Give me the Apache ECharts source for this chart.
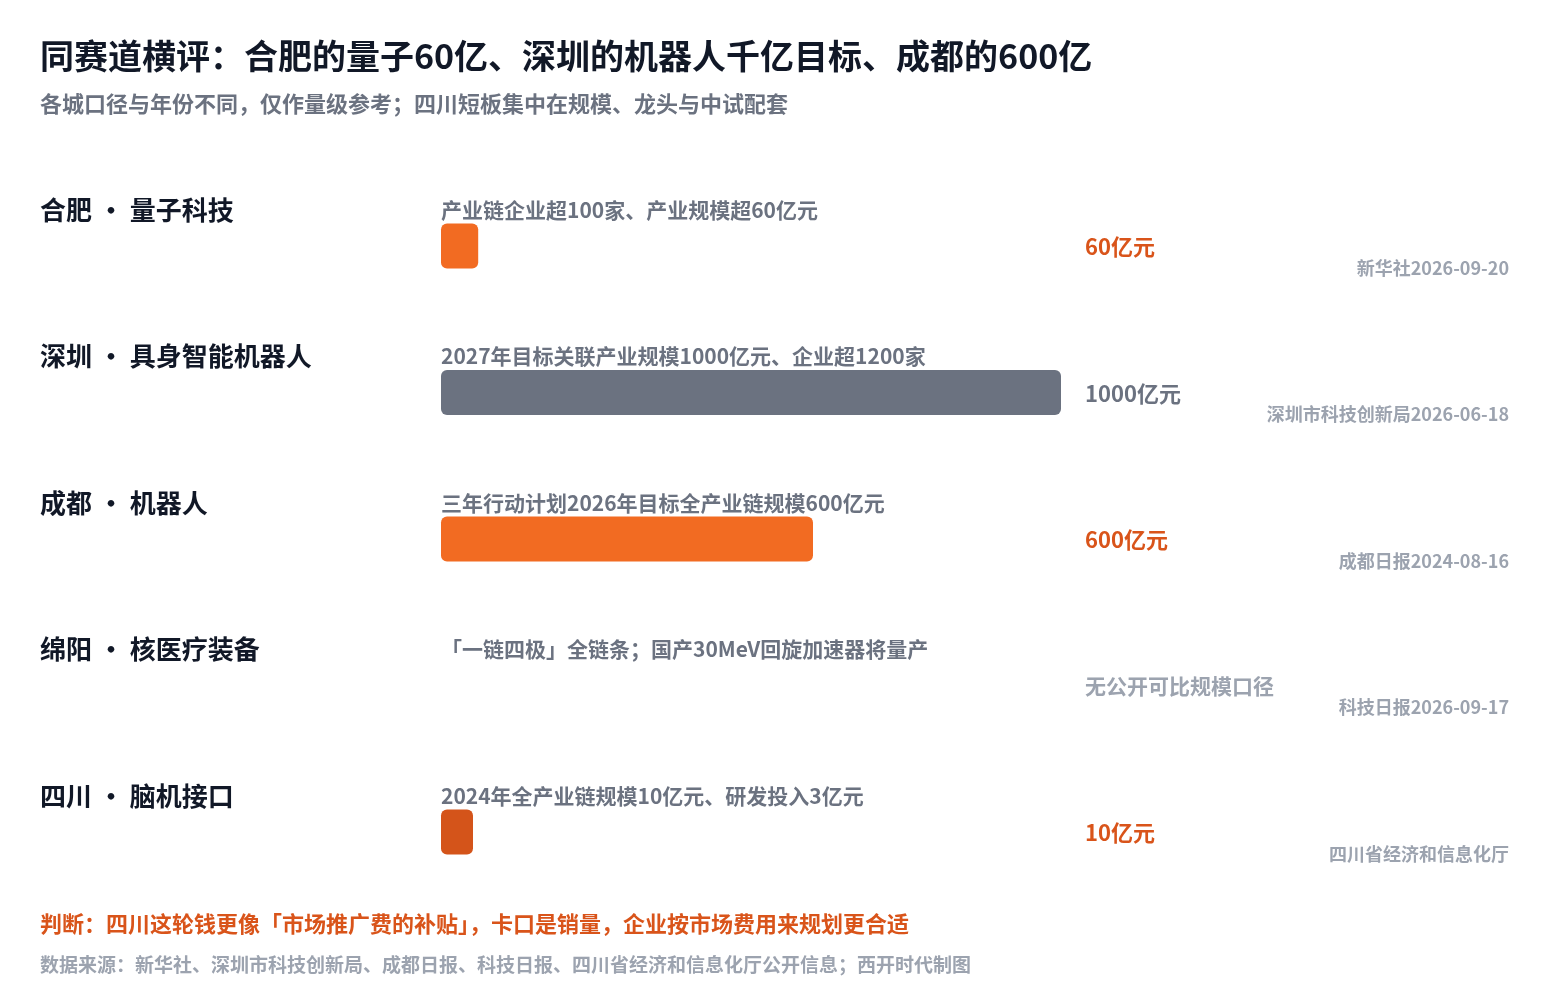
<!DOCTYPE html>
<html>
<head>
<meta charset="utf-8">
<script src="https://cdn.jsdelivr.net/npm/echarts@6/dist/echarts.min.js"></script>
<style>
html,body{margin:0;padding:0;background:#fff;}
#c{width:1564px;height:986px;}
</style>
</head>
<body>
<div id="c"></div>
<script>
const titleText = '同赛道横评：合肥的量子60亿、深圳的机器人千亿目标、成都的600亿';
const subtitleText = '各城口径与年份不同，仅作量级参考；四川短板集中在规模、龙头与中试配套';
const rowLabels = ['合肥 · 量子科技', '深圳 · 具身智能机器人', '成都 · 机器人', '绵阳 · 核医疗装备', '四川 · 脑机接口'];
const descriptions = ['产业链企业超100家、产业规模超60亿元', '2027年目标关联产业规模1000亿元、企业超1200家', '三年行动计划2026年目标全产业链规模600亿元', '「一链四极」全链条；国产30MeV回旋加速器将量产', '2024年全产业链规模10亿元、研发投入3亿元'];
const values = [60, 1000, 600, null, 10];
const valueLabels = ['60亿元', '1000亿元', '600亿元', '无公开可比规模口径', '10亿元'];
const sources = ['新华社2026-09-20', '深圳市科技创新局2026-06-18', '成都日报2024-08-16', '科技日报2026-09-17', '四川省经济和信息化厅'];
const judgement = '判断：四川这轮钱更像「市场推广费的补贴」，卡口是销量，企业按市场费用来规划更合适';
const footnote = '数据来源：新华社、深圳市科技创新局、成都日报、科技日报、四川省经济和信息化厅公开信息；西开时代制图';

const FONT = '"Noto Sans CJK SC", "Noto Sans", sans-serif';
const barColors = ['#F26B22', '#6B7280', '#F26B22', '#F26B22', '#D4541A'];
const valueColors = ['#D9541A', '#6B7280', '#D9541A', '#9CA3AF', '#D9541A'];
const valueSizes = [22, 22, 22, 21, 22];

const chart = echarts.init(document.getElementById('c'), null, {renderer: 'canvas'});
const cats = rowLabels.map((_, i) => 'r' + i);

chart.setOption({
  animation: false,
  backgroundColor: '#ffffff',
  grid: {left: 441, right: 503, top: 172.75, bottom: 80.75, containLabel: false},
  xAxis: {type: 'value', min: 0, max: 1000, show: false},
  yAxis: {type: 'category', data: cats, inverse: true, show: false},
  series: [{
    type: 'bar',
    barWidth: 45,
    barMinHeight: 32,
    data: values.map((v, i) => ({
      value: v == null ? '-' : v,
      itemStyle: {color: barColors[i], borderRadius: 6}
    })),
    silent: true
  }]
});

const g = [];
g.push({type: 'text', x: 40, y: 56, style: {text: titleText, font: 'bold 34px ' + FONT, fill: '#111827', verticalAlign: 'middle'}});
g.push({type: 'text', x: 40, y: 104, style: {text: subtitleText, font: 'bold 22px ' + FONT, fill: '#6B7280', verticalAlign: 'middle'}});

cats.forEach((c, i) => {
  const cy = chart.convertToPixel({yAxisIndex: 0}, c);
  g.push({type: 'text', x: 40, y: cy - 36, style: {text: rowLabels[i], font: 'bold 26px ' + FONT, fill: '#111827', verticalAlign: 'middle', align: 'left'}});
  g.push({type: 'text', x: 441, y: cy - 36, style: {text: descriptions[i], font: 'bold 21px ' + FONT, fill: '#6B7280', verticalAlign: 'middle', align: 'left'}});
  g.push({type: 'text', x: 1085, y: cy + 1, style: {text: valueLabels[i], font: 'bold ' + valueSizes[i] + 'px ' + FONT, fill: valueColors[i], verticalAlign: 'middle', align: 'left'}});
  g.push({type: 'text', x: 1509, y: cy + 22, style: {text: sources[i], font: 'bold 18px ' + FONT, fill: '#9CA3AF', verticalAlign: 'middle', align: 'right'}});
});

g.push({type: 'text', x: 40, y: 924, style: {text: judgement, font: 'bold 22px ' + FONT, fill: '#D9541A', verticalAlign: 'middle'}});
g.push({type: 'text', x: 40, y: 965, style: {text: footnote, font: 'bold 19px ' + FONT, fill: '#9CA3AF', verticalAlign: 'middle'}});

chart.setOption({graphic: {elements: g}});
</script>
</body>
</html>
